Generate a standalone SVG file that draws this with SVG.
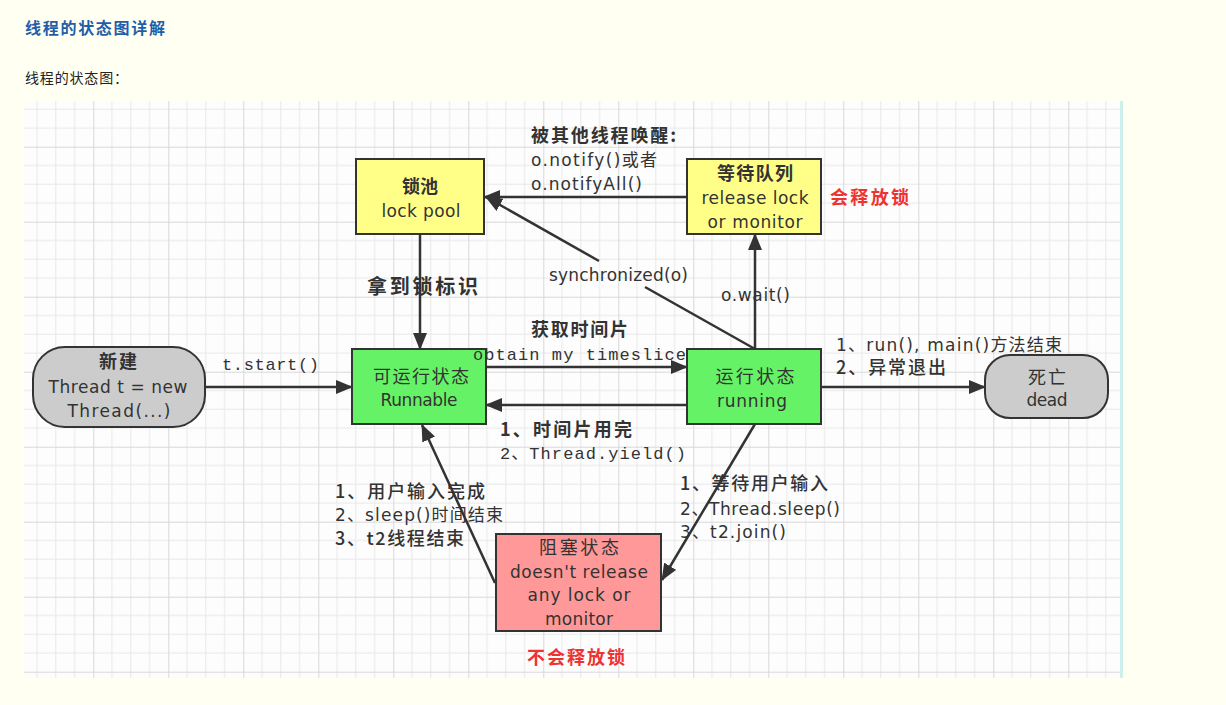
<svg xmlns="http://www.w3.org/2000/svg" width="1226" height="705" viewBox="0 0 1226 705">
<style>
.t{font-family:"DejaVu Sans","Noto Sans CJK SC",sans-serif;fill:#333;font-size:17px}
.c{font-family:"Noto Sans CJK SC","DejaVu Sans",sans-serif;fill:#333;font-size:18px}
.k{font-family:"Noto Sans CJK SC","DejaVu Sans",sans-serif;fill:#333;font-size:18px;font-weight:500}
.m{font-family:"Liberation Mono","Noto Sans CJK SC",monospace;fill:#333;font-size:17px}
.b{font-weight:bold}
.mid{text-anchor:middle}
.red{fill:#ee3333;font-weight:bold}
.box{stroke:#333;stroke-width:2}
.yel{fill:#ffff88}
.grn{fill:#66f266}
.gry{fill:#cccccc}
.pnk{fill:#ff9999}
.ln{stroke:#333;stroke-width:2.5;fill:none}
.ar{marker-end:url(#ah)}
</style>
<defs>
<pattern id="grid" patternUnits="userSpaceOnUse" x="18.3" y="-3.3" width="75" height="75">
<path d="M18.75 0V75M37.5 0V75M56.25 0V75M0 18.75H75M0 37.5H75M0 56.25H75" stroke="#e8e8e8" stroke-width="1" fill="none"/>
<path d="M0.5 0V75M0 0.5H75" stroke="#d8d8d8" stroke-width="1" fill="none"/>
</pattern>
<marker id="ah" markerUnits="userSpaceOnUse" markerWidth="18" markerHeight="14" refX="16" refY="7" orient="auto">
<path d="M0 0L17 7L0 14z" fill="#333"/>
</marker>
</defs>
<rect width="1226" height="705" fill="#fffff2"/>
<text x="25" y="34" font-family="'Noto Sans CJK SC',sans-serif" font-size="16" font-weight="bold" fill="#1f5ea8" textLength="140">线程的状态图详解</text>
<text x="25" y="83" font-family="'Noto Sans CJK SC',sans-serif" font-size="14" fill="#222" textLength="103">线程的状态图：</text>
<rect x="24" y="101" width="1097" height="577" fill="#fdfdfd"/>
<rect x="24" y="101" width="1097" height="577" fill="url(#grid)"/>
<rect x="1120" y="101" width="3" height="577" fill="#cdf0ee"/>

<g id="connectors">
<line class="ln ar" x1="205" y1="387" x2="352" y2="387"/>
<line class="ln ar" x1="420" y1="234" x2="420" y2="349"/>
<line class="ln ar" x1="486" y1="367" x2="687" y2="367"/>
<line class="ln ar" x1="687" y1="405" x2="486" y2="405"/>
<line class="ln ar" x1="687" y1="197" x2="484" y2="197"/>
<line class="ln" x1="755" y1="349" x2="645" y2="287"/>
<line class="ln ar" x1="599" y1="261" x2="486" y2="197"/>
<line class="ln ar" x1="755" y1="349" x2="755" y2="234"/>
<line class="ln ar" x1="821" y1="387" x2="985" y2="387"/>
<line class="ln ar" x1="755" y1="424" x2="662" y2="580"/>
<line class="ln ar" x1="495" y1="583" x2="422" y2="425"/>
</g>

<g id="lockpool">
<rect class="box yel" x="356" y="159" width="128" height="75"/>
<text class="c b mid" x="420" y="193" textLength="36">锁池</text>
<text class="t mid" x="421" y="217" textLength="79">lock pool</text>
</g>
<g id="waitqueue">
<rect class="box yel" x="687" y="159" width="134" height="75"/>
<text class="c b mid" x="755" y="180" textLength="76">等待队列</text>
<text class="t mid" x="755" y="204" textLength="107">release lock</text>
<text class="t mid" x="755" y="228" textLength="95">or monitor</text>
</g>
<g id="new">
<rect class="box gry" x="33" y="347" width="172" height="80" rx="32"/>
<text class="c b mid" x="118" y="368" textLength="38">新建</text>
<text class="t mid" x="118" y="393" textLength="139">Thread t = new</text>
<text class="t mid" x="119" y="417" textLength="103">Thread(...)</text>
</g>
<g id="runnable">
<rect class="box grn" x="352" y="349" width="134" height="75"/>
<text class="c mid" x="421" y="383" textLength="96">可运行状态</text>
<text class="t mid" x="419" y="406" textLength="77">Runnable</text>
</g>
<g id="running">
<rect class="box grn" x="687" y="349" width="134" height="75"/>
<text class="c mid" x="755" y="383" textLength="79">运行状态</text>
<text class="t mid" x="752" y="407" textLength="70">running</text>
</g>
<g id="dead">
<rect class="box gry" x="985" y="355" width="123" height="63" rx="25"/>
<text class="c mid" x="1047" y="384" textLength="38">死亡</text>
<text class="t mid" x="1047" y="406" textLength="41">dead</text>
</g>
<g id="blocked">
<rect class="box pnk" x="496" y="534" width="165" height="97"/>
<text class="c mid" x="579" y="554" textLength="80">阻塞状态</text>
<text class="t mid" x="579" y="578" textLength="138">doesn't release</text>
<text class="t mid" x="579" y="601" textLength="103">any lock or</text>
<text class="t mid" x="579" y="625" textLength="68">monitor</text>
</g>

<g id="labels">
<text class="m" x="222" y="370" textLength="97">t.start()</text>
<text class="c b" x="367" y="294" style="font-size:20px" textLength="111">拿到锁标识</text>
<text class="c b" x="531" y="336" textLength="97">获取时间片</text>
<text class="m" x="473" y="360" textLength="213">obtain my timeslice</text>
<text class="c b" x="500" y="436" textLength="132">1、时间片用完</text>
<text class="m" x="500" y="459" textLength="186">2、Thread.yield()</text>
<text class="c b" x="531" y="142" textLength="145">被其他线程唤醒:</text>
<text class="t" x="531" y="166" textLength="126">o.notify()或者</text>
<text class="t" x="531" y="190" textLength="111">o.notifyAll()</text>
<text class="t" x="549" y="281" textLength="139">synchronized(o)</text>
<text class="t" x="721" y="301" textLength="69">o.wait()</text>
<text class="c red" x="830" y="204" textLength="79">会释放锁</text>
<text class="t" x="836" y="351" textLength="226">1、run(), main()方法结束</text>
<text class="k" x="836" y="374" textLength="110">2、异常退出</text>
<text class="k" x="335" y="498" textLength="150">1、用户输入完成</text>
<text class="t" x="335" y="521" textLength="168">2、sleep()时间结束</text>
<text class="k" x="335" y="545" textLength="129">3、t2线程结束</text>
<text class="k" x="680" y="490" textLength="148">1、等待用户输入</text>
<text class="t" x="680" y="515" textLength="160">2、Thread.sleep()</text>
<text class="t" x="680" y="538" textLength="106">3、t2.join()</text>
<text class="c red" x="527" y="664" textLength="98">不会释放锁</text>
</g>
</svg>
